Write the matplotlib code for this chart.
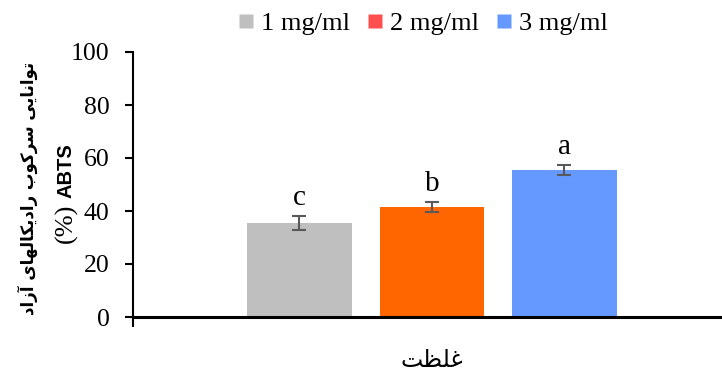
import matplotlib
matplotlib.use("Agg")
import matplotlib.pyplot as plt
from matplotlib.lines import Line2D

# Data
doses = ["1 mg/ml", "2 mg/ml", "3 mg/ml"]
activity = [35.5, 41.5, 55.5]
activity_err = [2.6, 2.0, 2.0]
groups = ["c", "b", "a"]
bar_colors = ["#BFBFBF", "#FF6600", "#6699FF"]
legend_colors = ["#BFBFBF", "#FF4F4F", "#6699FF"]
yticks = [0, 20, 40, 60, 80, 100]
ylabel_fa = "توانایی سرکوب رادیکالهای آزاد"
xlabel_fa = "غلظت"

# Minimal Arabic-script shaping: (isolated, final, initial, medial)
FORMS = {
    "ا": ("\uFE8D", "\uFE8E", None, None),
    "آ": ("\uFE81", "\uFE82", None, None),
    "ب": ("\uFE8F", "\uFE90", "\uFE91", "\uFE92"),
    "ت": ("\uFE95", "\uFE96", "\uFE97", "\uFE98"),
    "د": ("\uFEA9", "\uFEAA", None, None),
    "ر": ("\uFEAD", "\uFEAE", None, None),
    "ز": ("\uFEAF", "\uFEB0", None, None),
    "س": ("\uFEB1", "\uFEB2", "\uFEB3", "\uFEB4"),
    "ظ": ("\uFEC5", "\uFEC6", "\uFEC7", "\uFEC8"),
    "غ": ("\uFECD", "\uFECE", "\uFECF", "\uFED0"),
    "ل": ("\uFEDD", "\uFEDE", "\uFEDF", "\uFEE0"),
    "ن": ("\uFEE5", "\uFEE6", "\uFEE7", "\uFEE8"),
    "ه": ("\uFEE9", "\uFEEA", "\uFEEB", "\uFEEC"),
    "و": ("\uFEED", "\uFEEE", None, None),
    "ی": ("\uFBFC", "\uFBFD", "\uFBFE", "\uFBFF"),
    "ک": ("\uFB8E", "\uFB8F", "\uFB90", "\uFB91"),
}


def shape_rtl(text):
    out = []
    for i, ch in enumerate(text):
        if ch not in FORMS:
            out.append(ch)
            continue
        prev = text[i - 1] if i > 0 else None
        nxt = text[i + 1] if i + 1 < len(text) else None
        join_prev = prev in FORMS and FORMS[prev][2] is not None
        join_next = FORMS[ch][2] is not None and nxt in FORMS
        iso, fin, ini, med = FORMS[ch]
        if join_prev and join_next:
            out.append(med)
        elif join_prev:
            out.append(fin)
        elif join_next:
            out.append(ini)
        else:
            out.append(iso)
    return "".join(reversed(out))


W, H = 722, 375
fig = plt.figure(figsize=(W / 100, H / 100), dpi=100)
ax = fig.add_axes([133 / W, (H - 317) / H, (W - 133) / W, (317 - 52) / H])

x = list(range(len(doses)))
ax.bar(x, activity, width=0.79, color=bar_colors, zorder=2)
ax.errorbar(x, activity, yerr=activity_err, fmt="none", ecolor="#595959",
            elinewidth=1.5, capsize=4.7, capthick=1.5, zorder=3)
for xi, v, e, g in zip(x, activity, activity_err, groups):
    ax.annotate(g, (xi, v + e), xytext=(0, 8), textcoords="offset points",
                ha="center", va="baseline", fontsize=21,
                family="Liberation Serif")

x_lo, x_hi = -1.257, 3.19
ax.set_xlim(x_lo, x_hi)
ax.set_ylim(0, 100)
ax.set_yticks(yticks)
ax.set_yticklabels([str(t) for t in yticks], family="Liberation Serif",
                   fontsize=18.5)
ax.set_xticks([x_lo])
ax.set_xticklabels([""])
ax.tick_params(axis="y", direction="out", length=5.8, width=1.5, pad=11)
ax.tick_params(axis="x", direction="out", length=7, width=1.5)
for s in ("top", "right"):
    ax.spines[s].set_visible(False)
ax.spines["left"].set_linewidth(1.5)
ax.spines["bottom"].set_linewidth(2.2)

# Legend
handles = [Line2D([], [], linestyle="none", marker="s", markersize=10,
                  markerfacecolor=c, markeredgecolor="none")
           for c in legend_colors]
fig.legend(handles, doses, loc="center", bbox_to_anchor=(423 / W, 1 - 23 / H),
           ncol=3, frameon=False, handlelength=0.6, handletextpad=0.28,
           columnspacing=0.64, prop={"family": "Liberation Serif", "size": 19})

# Axis titles
fig.text(28 / W, 1 - 188 / H, shape_rtl(ylabel_fa), rotation=90,
         ha="center", va="center", fontsize=12, fontweight="bold",
         family="DejaVu Sans")
fig.text(66 / W, 1 - 171 / H, "ABTS", rotation=90, ha="center", va="center",
         fontsize=14.5, fontweight="bold", family="Liberation Sans")
fig.text(66 / W, 1 - 223 / H, "(%)", rotation=90, ha="center", va="center",
         fontsize=19, family="Liberation Serif")
fig.text(432 / W, 1 - 360 / H, shape_rtl(xlabel_fa), ha="center",
         va="center", fontsize=17, family="DejaVu Sans")

fig.savefig("out.png", dpi=100)
